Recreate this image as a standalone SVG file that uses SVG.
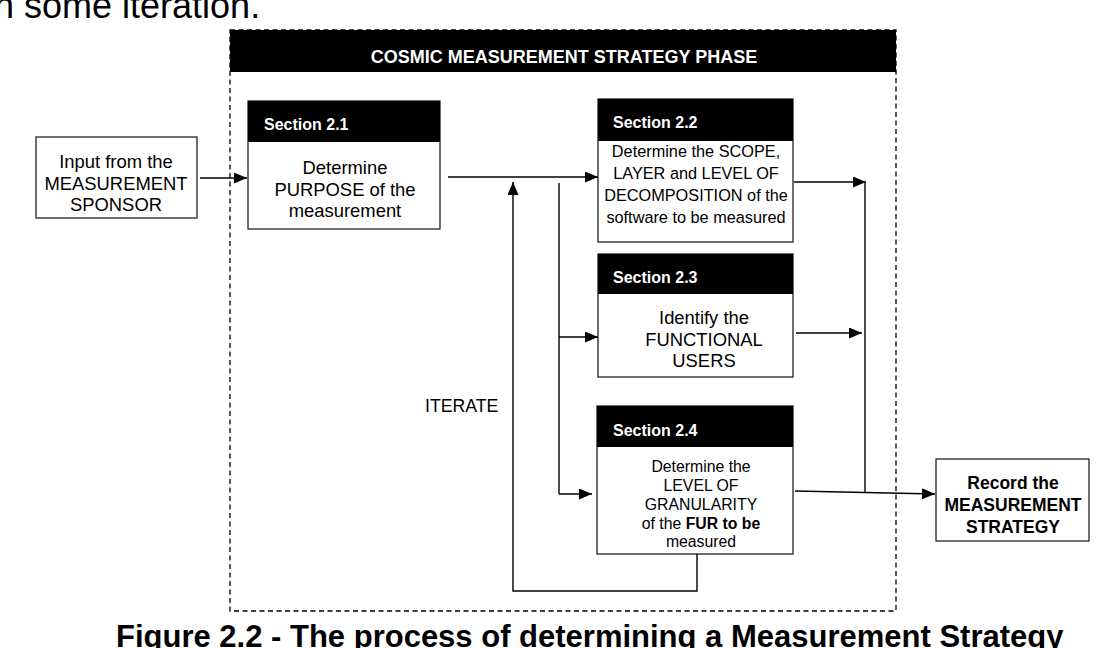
<svg xmlns="http://www.w3.org/2000/svg" width="1098" height="648" viewBox="0 0 1098 648">
<style>
.bg{fill:#fff}
.frame{fill:none;stroke:#000;stroke-width:1.3;stroke-dasharray:5,3.5}
.box{fill:#fff;stroke:#222;stroke-width:1.3}
.hdr{fill:#000}
.sec{font-family:"Liberation Sans",Arial,sans-serif;font-weight:bold;font-size:16px;fill:#fff}
.body{font-family:"Liberation Sans",Arial,sans-serif;font-size:18.4px;fill:#000;text-anchor:middle}
.ln{fill:none;stroke:#000;stroke-width:1.4}
.big{font-family:"Liberation Sans",Arial,sans-serif;font-size:36px;fill:#000}
</style>
<defs>
<marker id="ah" markerUnits="userSpaceOnUse" markerWidth="14" markerHeight="12" refX="13" refY="5.5" orient="auto">
<path d="M0,0 L13,5.5 L0,11 z" fill="#000"/>
</marker>
</defs>
<rect class="bg" x="0" y="0" width="1098" height="648"/>
<text class="big" x="-6" y="18">n some iteration.</text>
<text x="116" y="647" style="font-family:'Liberation Sans',Arial,sans-serif;font-weight:bold;font-size:31px;fill:#000">Figure 2.2 - The process of determining a Measurement Strategy</text>

<g id="phase">
<rect class="frame" x="230" y="30" width="666" height="581"/>
<rect class="hdr" x="230" y="30" width="666" height="42"/>
<text x="564" y="63" style="font-family:'Liberation Sans',Arial,sans-serif;font-weight:bold;font-size:18px;fill:#fff;text-anchor:middle">COSMIC MEASUREMENT STRATEGY PHASE</text>
</g>

<g id="input">
<rect class="box" x="36" y="137" width="161" height="81"/>
<text class="body" x="116" y="168">Input from the</text>
<text class="body" x="116" y="190">MEASUREMENT</text>
<text class="body" x="116" y="211">SPONSOR</text>
</g>

<g id="s21">
<rect class="box" x="248" y="101" width="192" height="128"/>
<rect class="hdr" x="248" y="101" width="192" height="41"/>
<text class="sec" x="264" y="130">Section 2.1</text>
<text class="body" x="345" y="174">Determine</text>
<text class="body" x="345" y="196">PURPOSE of the</text>
<text class="body" x="345" y="217">measurement</text>
</g>

<g id="s22">
<rect class="box" x="598" y="99" width="195" height="143"/>
<rect class="hdr" x="598" y="99" width="195" height="42"/>
<text class="sec" x="613" y="128">Section 2.2</text>
<text class="body" style="font-size:16.3px" x="696" y="157">Determine the SCOPE,</text>
<text class="body" style="font-size:16.3px" x="696" y="179">LAYER and LEVEL OF</text>
<text class="body" style="font-size:16.3px" x="696" y="201">DECOMPOSITION of the</text>
<text class="body" style="font-size:16.3px" x="696" y="223">software to be measured</text>
</g>

<g id="s23">
<rect class="box" x="598" y="254" width="195" height="123"/>
<rect class="hdr" x="598" y="254" width="195" height="40"/>
<text class="sec" x="613" y="283">Section 2.3</text>
<text class="body" x="704" y="324">Identify the</text>
<text class="body" x="704" y="346">FUNCTIONAL</text>
<text class="body" x="704" y="367">USERS</text>
</g>

<g id="s24">
<rect class="box" x="597" y="406" width="196" height="148"/>
<rect class="hdr" x="597" y="406" width="196" height="41"/>
<text class="sec" x="613" y="436">Section 2.4</text>
<text class="body" style="font-size:15.8px" x="701" y="472">Determine the</text>
<text class="body" style="font-size:15.8px" x="701" y="491">LEVEL OF</text>
<text class="body" style="font-size:15.8px" x="701" y="510">GRANULARITY</text>
<text class="body" style="font-size:15.8px" x="701" y="529">of the <tspan font-weight="bold">FUR to be</tspan></text>
<text class="body" style="font-size:15.8px" x="701" y="547">measured</text>
</g>

<g id="record">
<rect class="box" x="936" y="459" width="153" height="82"/>
<text class="body" style="font-weight:bold;font-size:17.5px" x="1013" y="489">Record the</text>
<text class="body" style="font-weight:bold;font-size:17.5px" x="1013" y="511">MEASUREMENT</text>
<text class="body" style="font-weight:bold;font-size:17.5px" x="1013" y="533">STRATEGY</text>
</g>

<g id="iterate-label">
<text class="body" style="font-size:17.7px;text-anchor:start" x="425" y="412">ITERATE</text>
</g>

<g id="connectors">
<path class="ln" d="M200,178 L247,178" marker-end="url(#ah)"/>
<path class="ln" d="M448,177 L598,177" marker-end="url(#ah)"/>
<path class="ln" d="M794,182 L866,182" marker-end="url(#ah)"/>
<path class="ln" d="M796,333 L862,333" marker-end="url(#ah)"/>
<path class="ln" d="M865,183 L865,493"/>
<path class="ln" d="M795,491 L935,494" marker-end="url(#ah)"/>
<path class="ln" d="M559,183 L559,494"/>
<path class="ln" d="M559,337 L598,337" marker-end="url(#ah)"/>
<path class="ln" d="M559,494 L592,494" marker-end="url(#ah)"/>
<path class="ln" d="M697,554 L697,591 L513,591 L513,182" marker-end="url(#ah)"/>
</g>
</svg>
